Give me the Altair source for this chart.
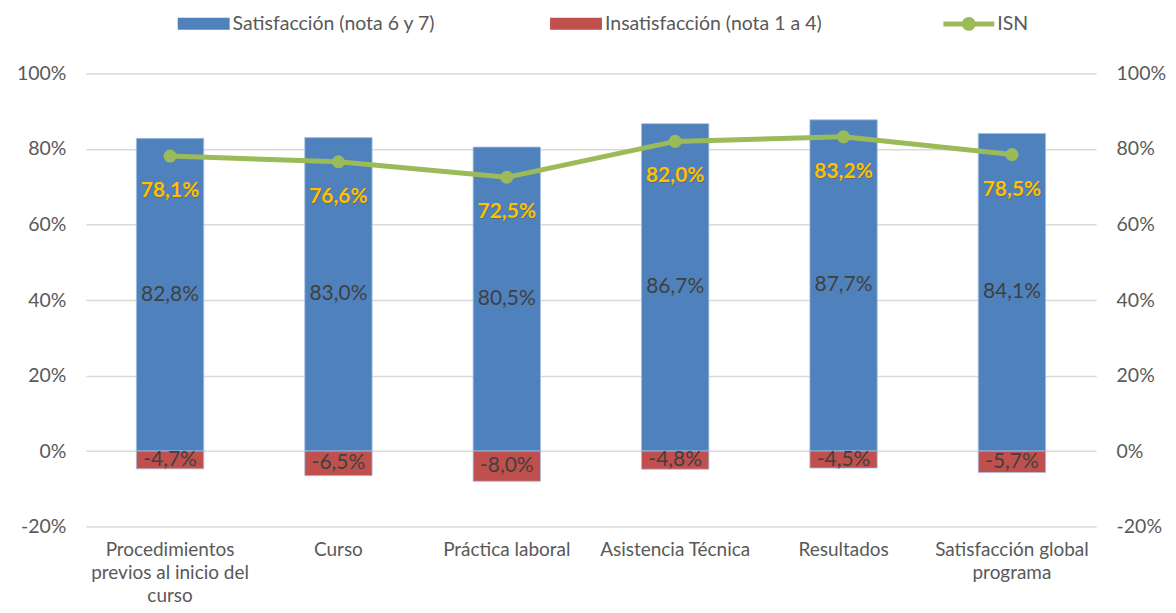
import altair as alt
import pandas as pd

categories = [
    "Procedimientos\nprevios al inicio del\ncurso",
    "Curso",
    "Práctica laboral",
    "Asistencia Técnica",
    "Resultados",
    "Satisfacción global\nprograma",
]
satisfaccion = [82.8, 83.0, 80.5, 86.7, 87.7, 84.1]
insatisfaccion = [-4.7, -6.5, -8.0, -4.8, -4.5, -5.7]
isn = [78.1, 76.6, 72.5, 82.0, 83.2, 78.5]

SAT = "Satisfacción (nota 6 y 7)"
INS = "Insatisfacción (nota 1 a 4)"
ISN = "ISN"

def fmt(v):
    return f"{v:.1f}%".replace(".", ",")

rows = []
for c, s, i in zip(categories, satisfaccion, insatisfaccion):
    rows.append({"cat": c, "serie": SAT, "value": s / 100, "mid": s / 200, "label": fmt(s)})
    rows.append({"cat": c, "serie": INS, "value": i / 100, "mid": i / 200, "label": fmt(i)})
bars_df = pd.DataFrame(rows)
isn_df = pd.DataFrame({"cat": categories, "isn": [v / 100 for v in isn],
                       "label": [fmt(v) for v in isn], "serie": ISN})

FONT = "Lato"
GREY = "#595959"
YDOM = [-0.2, 1.0]
TICKS = [-0.2, 0, 0.2, 0.4, 0.6, 0.8, 1.0]
YLABEL = "replace(format(datum.value, '.0%'), '\u2212', '-')"

x_enc = alt.X("cat:N", sort=categories, title=None,
              scale=alt.Scale(paddingInner=0.6, paddingOuter=0.3),
              axis=alt.Axis(labelExpr="split(datum.label, '\\n')", labelAngle=0,
                            labelFontSize=19, labelColor=GREY, labelFont=FONT,
                            labelPadding=14, labelLineHeight=23, ticks=False,
                            domain=False, grid=False, labelBaseline="top",
                            labelLimit=0))

yscale = alt.Scale(domain=YDOM, nice=False, zero=False)
y_axis_left = alt.Axis(values=TICKS, labelExpr=YLABEL,
                       labelFontSize=19.5, labelColor=GREY, labelFont=FONT,
                       labelPadding=20, ticks=False, domain=False, grid=True,
                       gridColor="#D9D9D9", gridWidth=1.5, title=None)

bar_path = "M-1,-0.23H1V0.23H-1Z"
isn_path = ("M-1,-0.1H1V0.1H-1Z "
            "M-0.27,0A0.27,0.27 0 1,1 0.27,0A0.27,0.27 0 1,1 -0.27,0Z")

bars = alt.Chart(bars_df).mark_bar(stroke="#A7BFE0", strokeWidth=0.8).encode(
    x=x_enc,
    y=alt.Y("value:Q", scale=yscale, axis=y_axis_left, stack=None),
    fill=alt.Fill("serie:N", scale=alt.Scale(domain=[SAT, INS], range=["#4F81BD", "#C0504D"]),
                  legend=alt.Legend(title=None, orient="none", direction="horizontal",
                                    legendX=92, legendY=-76, symbolType=bar_path,
                                    symbolSize=2704, symbolStrokeWidth=0,
                                    labelFontSize=19.5, labelColor=GREY, labelFont=FONT,
                                    columnPadding=114, labelOffset=3, labelLimit=0)),
)

bar_labels = alt.Chart(bars_df).mark_text(fontSize=21, color="#404040", font=FONT,
                                          baseline="middle").encode(
    x=alt.X("cat:N", sort=categories),
    y=alt.Y("mid:Q", scale=yscale),
    text="label:N",
)

line = alt.Chart(isn_df).mark_line(color="#9BBB59", strokeWidth=5).encode(
    x=alt.X("cat:N", sort=categories),
    y=alt.Y("isn:Q", scale=yscale),
)

points = alt.Chart(isn_df).mark_point(filled=True, size=170, opacity=1).encode(
    x=alt.X("cat:N", sort=categories),
    y=alt.Y("isn:Q", scale=yscale),
    color=alt.Color("serie:N", scale=alt.Scale(domain=[ISN], range=["#9BBB59"]),
                    legend=alt.Legend(title=None, orient="none", legendX=858, legendY=-76,
                                      symbolType=isn_path, symbolSize=2601,
                                      labelFontSize=19.5, labelColor=GREY, labelFont=FONT,
                                      labelOffset=2, labelLimit=0)),
)

isn_shadow = alt.Chart(isn_df).mark_text(fontSize=21, fontWeight="bold", font=FONT,
                                         color="#5a4a10", opacity=0.35, dy=36, dx=1,
                                         baseline="middle").encode(
    x=alt.X("cat:N", sort=categories),
    y=alt.Y("isn:Q", scale=yscale),
    text="label:N",
)

isn_labels = alt.Chart(isn_df).mark_text(fontSize=21, fontWeight="bold", font=FONT,
                                         color="#FFC000", dy=35, baseline="middle").encode(
    x=alt.X("cat:N", sort=categories),
    y=alt.Y("isn:Q", scale=yscale),
    text="label:N",
)

main = alt.layer(bars, bar_labels, line, points, isn_shadow, isn_labels)

right = alt.Chart(isn_df).mark_point(opacity=0).encode(
    x=alt.X("cat:N", sort=categories),
    y=alt.Y("isn:Q", scale=yscale,
            axis=alt.Axis(orient="right", values=TICKS, labelExpr=YLABEL,
                          labelFontSize=19.5, labelColor=GREY, labelFont=FONT,
                          labelPadding=20, ticks=False, domain=False, grid=False,
                          title=None)),
)

chart = alt.layer(main, right).resolve_scale(y="independent").properties(
    width=1012, height=454,
    autosize=alt.AutoSizeParams(type="none"),
    padding={"left": 78, "top": 65, "right": 72, "bottom": 78},
).configure_view(stroke=None)

chart.save("out.html", embed_options={"renderer": "svg", "actions": False})
